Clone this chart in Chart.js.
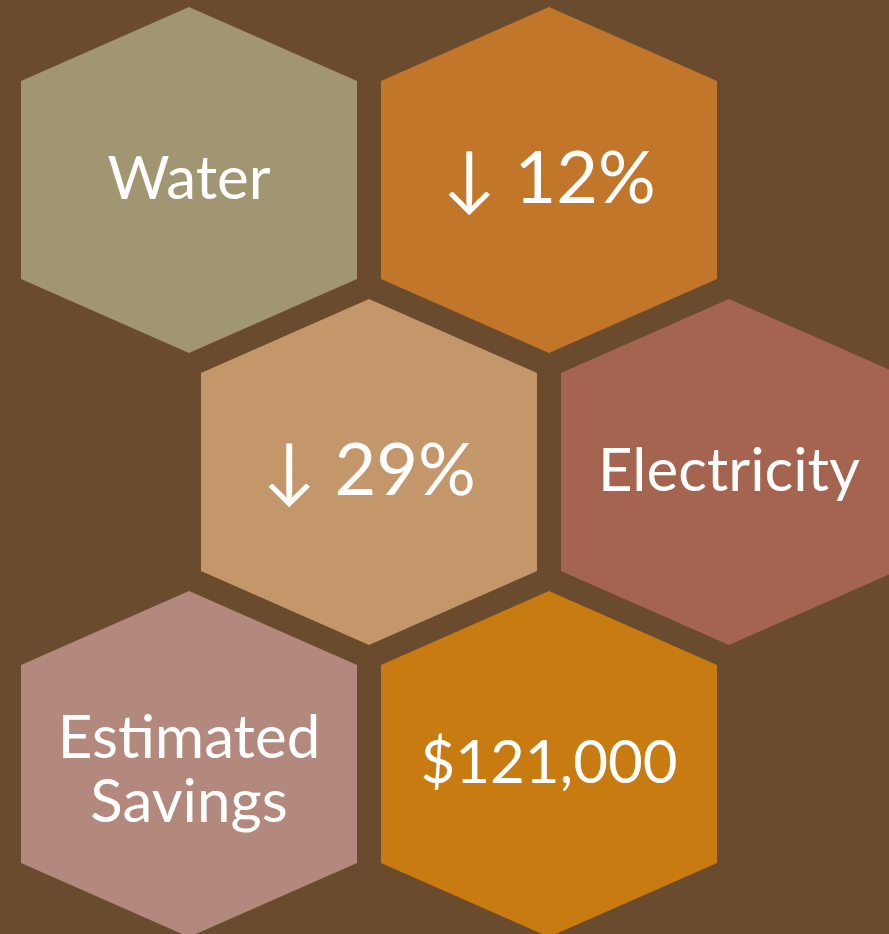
<!DOCTYPE html>
<html>
<head>
<meta charset="utf-8">
<script src="https://cdn.jsdelivr.net/npm/chart.js@4.4.1/dist/chart.umd.min.js"></script>
<style>
  html, body { margin: 0; padding: 0; background: #6B4B2E; overflow: hidden; }
  canvas { display: block; }
</style>
</head>
<body>
<canvas id="hexChart" width="889" height="934"></canvas>
<script>
// ====================== DATA ======================
const labels = [["Water"], ["\u2193 12%"], ["\u2193 29%"], ["Electricity"], ["Estimated", "Savings"], ["$121,000"]];
const cols = [0, 1, 0.5, 1.5, 0, 1];
const rows = [0, 0, 1, 1, 2, 2];
const big = [false, true, true, false, false, false];
const colors = ["#A29571", "#C17629", "#C4976B", "#A4644F", "#B4897D", "#C87B10"];

// ====================== HEX SHAPE ======================
// grid units: 1 col = 360px, 1 row = 292px
const HALF_W = 168 / 360;
const HALF_H = 173 / 292;
const SHOULDER = 99 / 292;

function hexPoints(cx, cy) {
  return [
    { x: cx, y: cy - HALF_H },
    { x: cx + HALF_W, y: cy - SHOULDER },
    { x: cx + HALF_W, y: cy + SHOULDER },
    { x: cx, y: cy + HALF_H },
    { x: cx - HALF_W, y: cy + SHOULDER },
    { x: cx - HALF_W, y: cy - SHOULDER },
    { x: cx, y: cy - HALF_H }
  ];
}

const datasets = cols.map((c, i) => ({
  data: hexPoints(c, rows[i]),
  showLine: true,
  fill: "shape",
  backgroundColor: colors[i],
  borderColor: colors[i],
  borderWidth: 0,
  pointRadius: 0,
  tension: 0
}));

// ====================== LABELS PLUGIN ======================
const hexLabels = {
  id: "hexLabels",
  afterDatasetsDraw(chart) {
    const ctx = chart.ctx;
    const xs = chart.scales.x;
    const ys = chart.scales.y;
    ctx.save();
    ctx.fillStyle = "#FFFFFF";
    ctx.textAlign = "center";
    ctx.textBaseline = "alphabetic";
    labels.forEach((lines, i) => {
      const px = xs.getPixelForValue(cols[i]);
      const py = ys.getPixelForValue(rows[i]);
      const size = big[i] ? 72 : 60;
      ctx.font = `${size}px Lato, "DejaVu Sans", sans-serif`;
      const lineH = 64;
      const cap = size * 0.72;
      const nudge = lines.length > 1 ? 4 : -3;
      const top = py - (lines.length - 1) * lineH / 2 + cap / 2 + nudge;
      lines.forEach((t, j) => ctx.fillText(t, px, top + j * lineH));
    });
    ctx.restore();
  }
};

// ====================== CHART ======================
const ctx = document.getElementById("hexChart").getContext("2d");
new Chart(ctx, {
  type: "scatter",
  data: { datasets },
  options: {
    responsive: false,
    animation: false,
    layout: { padding: 0 },
    scales: {
      x: { type: "linear", display: false, min: -189 / 360, max: 700 / 360 },
      y: { type: "linear", display: false, reverse: true, min: -180 / 292, max: 754 / 292 }
    },
    plugins: {
      legend: { display: false },
      tooltip: { enabled: false }
    }
  },
  plugins: [hexLabels]
});
</script>
</body>
</html>
